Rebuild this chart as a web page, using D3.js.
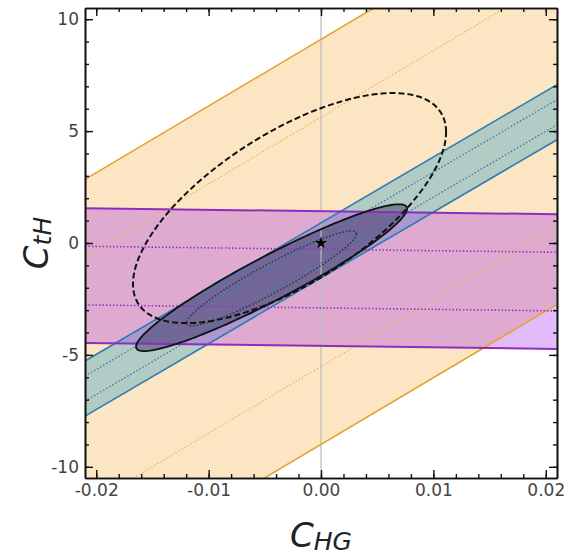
<!DOCTYPE html>
<meta charset="utf-8">
<style>
body { margin: 0; background: #fff; }
text { font-family: "DejaVu Sans", sans-serif; }
.tick text { fill: #444; font-size: 17px; }
.axis path, .axis line { stroke: #111; }
</style>
<script src="https://d3js.org/d3.v7.min.js"></script>
<body>
<script>

// axis setup
var xDomain = [-0.021, 0.021],
    yDomain = [-10.5, 10.5];
var xTicks = [-0.02, -0.01, 0.00, 0.01, 0.02],
    xTickLabels = ["-0.02", "-0.01", "0.00", "0.01", "0.02"];
var yTicks = [-10, -5, 0, 5, 10],
    yTickLabels = ["-10", "-5", "0", "5", "10"];

// straight bands: y = slope * x + center, outer (solid) and inner (dotted) half widths
var bandNames  = ["orange", "blue", "magenta"];
var bandSlope  = [298, 294, -6.4];
var bandCenter = [0.05, -0.33, -1.59];
var bandOuter  = [9.05, 1.23, 3.01];
var bandInner  = [5.57, 0.56, 1.31];

// ellipses: center, half extents and correlation
var ellNames = ["solid", "dotted", "dashed"];
var ellCx  = [-0.0044, -0.0044, -0.0028];
var ellCy  = [-1.55, -1.58, 1.56];
var ellSx  = [0.01206, 0.00756, 0.01393];
var ellSy  = [3.28, 2.12, 5.14];
var ellRho = [0.94, 0.94, 0.66];

var bestFit = [0, 0];

var width = 567, height = 556;
var margin = {left: 85, right: 10, top: 8, bottom: 78};
var w = width - margin.left - margin.right,
    h = height - margin.top - margin.bottom;

var svg = d3.select("body").append("svg")
    .attr("width", width)
    .attr("height", height);

var x = d3.scaleLinear().domain(xDomain).range([0, w]);
var y = d3.scaleLinear().domain(yDomain).range([h, 0]);

var g = svg.append("g").attr("transform", "translate(" + margin.left + "," + margin.top + ")");

g.append("clipPath").attr("id", "clip")
  .append("rect").attr("width", w).attr("height", h);

var plot = g.append("g").attr("clip-path", "url(#clip)");

var bandStyle = {
  orange:  {fill: "#f0a020", op: 0.27, line: "#e5a336", lw: 1.6, dot: "#f0b040", dw: 1.1},
  blue:    {fill: "#2a9ac8", op: 0.35, line: "#2c7cb2", lw: 1.6, dot: "#2c7cb2", dw: 1.3},
  magenta: {fill: "#a020f0", op: 0.30, line: "#8e2cbf", lw: 2,   dot: "#9a30c0", dw: 1.6}
};

function bandLine(i, off) {
  return xDomain.map(function(v) { return [x(v), y(bandSlope[i] * v + bandCenter[i] + off)]; });
}

// band fills
bandNames.forEach(function(name, i) {
  var top = bandLine(i, bandOuter[i]), bot = bandLine(i, -bandOuter[i]).reverse();
  plot.append("path")
      .attr("d", d3.line()(top.concat(bot)) + "Z")
      .attr("fill", bandStyle[name].fill)
      .attr("fill-opacity", bandStyle[name].op);
});

function ellipsePts(i) {
  var phi = Math.acos(ellRho[i]);
  return d3.range(0, 361, 2).map(function(a) {
    var t = a * Math.PI / 180;
    return [x(ellCx[i] + ellSx[i] * Math.cos(t)), y(ellCy[i] + ellSy[i] * Math.cos(t - phi))];
  });
}

// filled solid ellipse
plot.append("path")
    .attr("d", d3.line()(ellipsePts(0)) + "Z")
    .attr("fill", "#2c2c50")
    .attr("fill-opacity", 0.45);

// zero line
plot.append("line")
    .attr("x1", x(0)).attr("x2", x(0))
    .attr("y1", 0).attr("y2", h)
    .attr("stroke", "#bbb")
    .attr("stroke-width", 1.2);

// band edges and inner dotted lines
bandNames.forEach(function(name, i) {
  var s = bandStyle[name];
  [bandOuter[i], -bandOuter[i]].forEach(function(off) {
    plot.append("path").attr("d", d3.line()(bandLine(i, off)))
        .attr("fill", "none").attr("stroke", s.line).attr("stroke-width", s.lw);
  });
  [bandInner[i], -bandInner[i]].forEach(function(off) {
    plot.append("path").attr("d", d3.line()(bandLine(i, off)))
        .attr("fill", "none").attr("stroke", s.dot).attr("stroke-width", s.dw)
        .attr("stroke-dasharray", "1.5,2");
  });
});

// ellipse outlines
plot.append("path").attr("d", d3.line()(ellipsePts(0)) + "Z")
    .attr("fill", "none").attr("stroke", "#111").attr("stroke-width", 1.8);
plot.append("path").attr("d", d3.line()(ellipsePts(1)) + "Z")
    .attr("fill", "none").attr("stroke", "#333").attr("stroke-width", 1.5)
    .attr("stroke-dasharray", "1.5,2");
plot.append("path").attr("d", d3.line()(ellipsePts(2)) + "Z")
    .attr("fill", "none").attr("stroke", "#111").attr("stroke-width", 2)
    .attr("stroke-dasharray", "6,3");

plot.append("path")
    .attr("d", d3.symbol().type(d3.symbolStar).size(45)())
    .attr("transform", "translate(" + x(bestFit[0]) + "," + y(bestFit[1]) + ")")
    .attr("fill", "#000");

// axes, ticks inward on all four sides
var xMinor = d3.range(-20, 21, 2).map(function(d) { return d / 1000; });
var yMinor = d3.range(-10, 11, 1);

function addAxis(axis, tr, labels) {
  var a = g.append("g").attr("class", "axis").attr("transform", tr).call(axis);
  a.select(".domain").attr("stroke-width", 1.6);
  a.selectAll(".tick line").attr("stroke-width", 1.4);
  if (!labels) a.selectAll(".tick text").remove();
  return a;
}

addAxis(d3.axisBottom(x).tickValues(xMinor).tickSize(-4).tickSizeOuter(0).tickFormat(""), "translate(0," + h + ")");
addAxis(d3.axisTop(x).tickValues(xMinor).tickSize(-4).tickSizeOuter(0).tickFormat(""), "translate(0,0)");
addAxis(d3.axisLeft(y).tickValues(yMinor).tickSize(-4).tickSizeOuter(0).tickFormat(""), "translate(0,0)");
addAxis(d3.axisRight(y).tickValues(yMinor).tickSize(-4).tickSizeOuter(0).tickFormat(""), "translate(" + w + ",0)");

addAxis(d3.axisBottom(x).tickValues(xTicks).tickSize(-8).tickSizeOuter(0).tickPadding(6)
    .tickFormat(function(d, i) { return xTickLabels[i]; }), "translate(0," + h + ")", true);
addAxis(d3.axisTop(x).tickValues(xTicks).tickSize(-8).tickSizeOuter(0).tickFormat(""), "translate(0,0)");
addAxis(d3.axisLeft(y).tickValues(yTicks).tickSize(-8).tickSizeOuter(0).tickPadding(6)
    .tickFormat(function(d, i) { return yTickLabels[i]; }), "translate(0,0)", true);
addAxis(d3.axisRight(y).tickValues(yTicks).tickSize(-8).tickSizeOuter(0).tickFormat(""), "translate(" + w + ",0)");

// axis titles
var xl = svg.append("text")
    .attr("x", margin.left + x(0))
    .attr("y", 547)
    .attr("text-anchor", "middle")
    .attr("fill", "#222")
    .attr("font-style", "italic");
xl.append("tspan").attr("font-size", 34).text("C");
xl.append("tspan").attr("font-size", 25).attr("dy", 3).text("HG");

var yl = svg.append("text")
    .attr("transform", "translate(48," + (margin.top + y(0)) + ") rotate(-90)")
    .attr("text-anchor", "middle")
    .attr("fill", "#222")
    .attr("font-style", "italic");
yl.append("tspan").attr("font-size", 34).text("C");
yl.append("tspan").attr("font-size", 25).attr("dy", 3).text("tH");

</script>
